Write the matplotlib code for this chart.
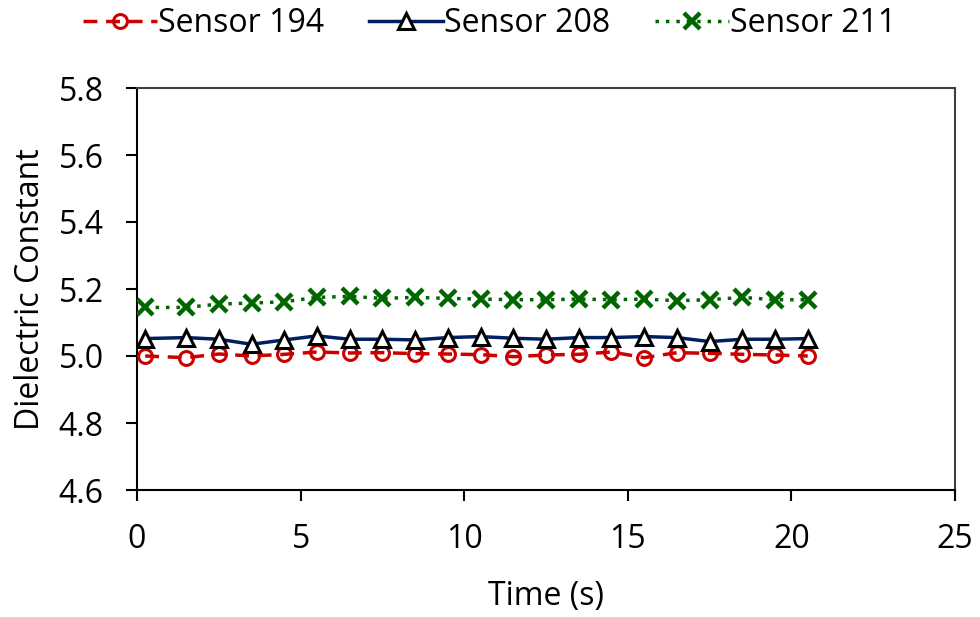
import matplotlib
matplotlib.use("Agg")
import matplotlib.pyplot as plt

plt.rcParams['font.family'] = ['Open Sans', 'DejaVu Sans']

time_s = [0.25, 1.5, 2.5, 3.5, 4.5, 5.5, 6.5, 7.5, 8.5, 9.5, 10.5,
          11.5, 12.5, 13.5, 14.5, 15.5, 16.5, 17.5, 18.5, 19.5, 20.5]
sensor_194 = [5.000, 4.995, 5.006, 5.000, 5.005, 5.012, 5.009, 5.010, 5.007, 5.006, 5.004,
              4.998, 5.003, 5.005, 5.012, 4.995, 5.010, 5.008, 5.005, 5.003, 5.000]
sensor_208 = [5.052, 5.055, 5.050, 5.035, 5.048, 5.060, 5.050, 5.050, 5.048, 5.055, 5.058,
              5.053, 5.050, 5.055, 5.055, 5.058, 5.055, 5.043, 5.050, 5.050, 5.052]
sensor_211 = [5.145, 5.145, 5.155, 5.158, 5.162, 5.175, 5.178, 5.172, 5.175, 5.172, 5.170,
              5.168, 5.168, 5.170, 5.168, 5.170, 5.165, 5.168, 5.175, 5.168, 5.168]
x_ticks = [0, 5, 10, 15, 20, 25]
y_ticks = [4.6, 4.8, 5.0, 5.2, 5.4, 5.6, 5.8]

FS = 23

fig = plt.figure(figsize=(9.8, 6.17), dpi=100)
ax = fig.add_axes([137/980, 1 - 490/617, (955-137)/980, (490-88)/617])

ax.plot(time_s, sensor_194, color='#cc0000', linestyle=(0, (4, 2.5)), linewidth=2.5,
        marker='o', markersize=10, markerfacecolor='none', markeredgewidth=2.2,
        label='Sensor 194', zorder=3)
ax.plot(time_s, sensor_208, color='#002060', linestyle='-', linewidth=2.5,
        marker='^', markersize=11, markerfacecolor='white', markeredgecolor='black',
        markeredgewidth=2.2, label='Sensor 208', zorder=4)
ax.plot(time_s, sensor_211, color='#006600', linestyle=(0, (1, 2)), linewidth=2.5,
        marker='x', markersize=12, markeredgewidth=3.2,
        label='Sensor 211', zorder=3)

ax.set_xlim(0, 25)
ax.set_ylim(4.6, 5.8)
ax.set_xticks(x_ticks)
ax.set_yticks(y_ticks)
ax.set_yticklabels([f"{v:.1f}" for v in y_ticks])
ax.tick_params(axis='both', direction='out', length=8, width=1.5, labelsize=FS,
               colors='black')
ax.tick_params(axis='x', pad=16)
ax.tick_params(axis='y', pad=16)
for side in ['left', 'bottom']:
    ax.spines[side].set_linewidth(1.5)
    ax.spines[side].set_color('black')
for side in ['top', 'right']:
    ax.spines[side].set_linewidth(1.5)
    ax.spines[side].set_color('#404040')

ax.set_xlabel('Time (s)', fontsize=FS, labelpad=17)
ax.set_ylabel('Dielectric Constant', fontsize=FS, labelpad=8)

fig.legend(loc='upper center', bbox_to_anchor=(0.5, 1.035), ncol=3, frameon=False,
           fontsize=FS, handlelength=2.3, handletextpad=0.05, columnspacing=1.4)

fig.savefig('out.png', dpi=100)
